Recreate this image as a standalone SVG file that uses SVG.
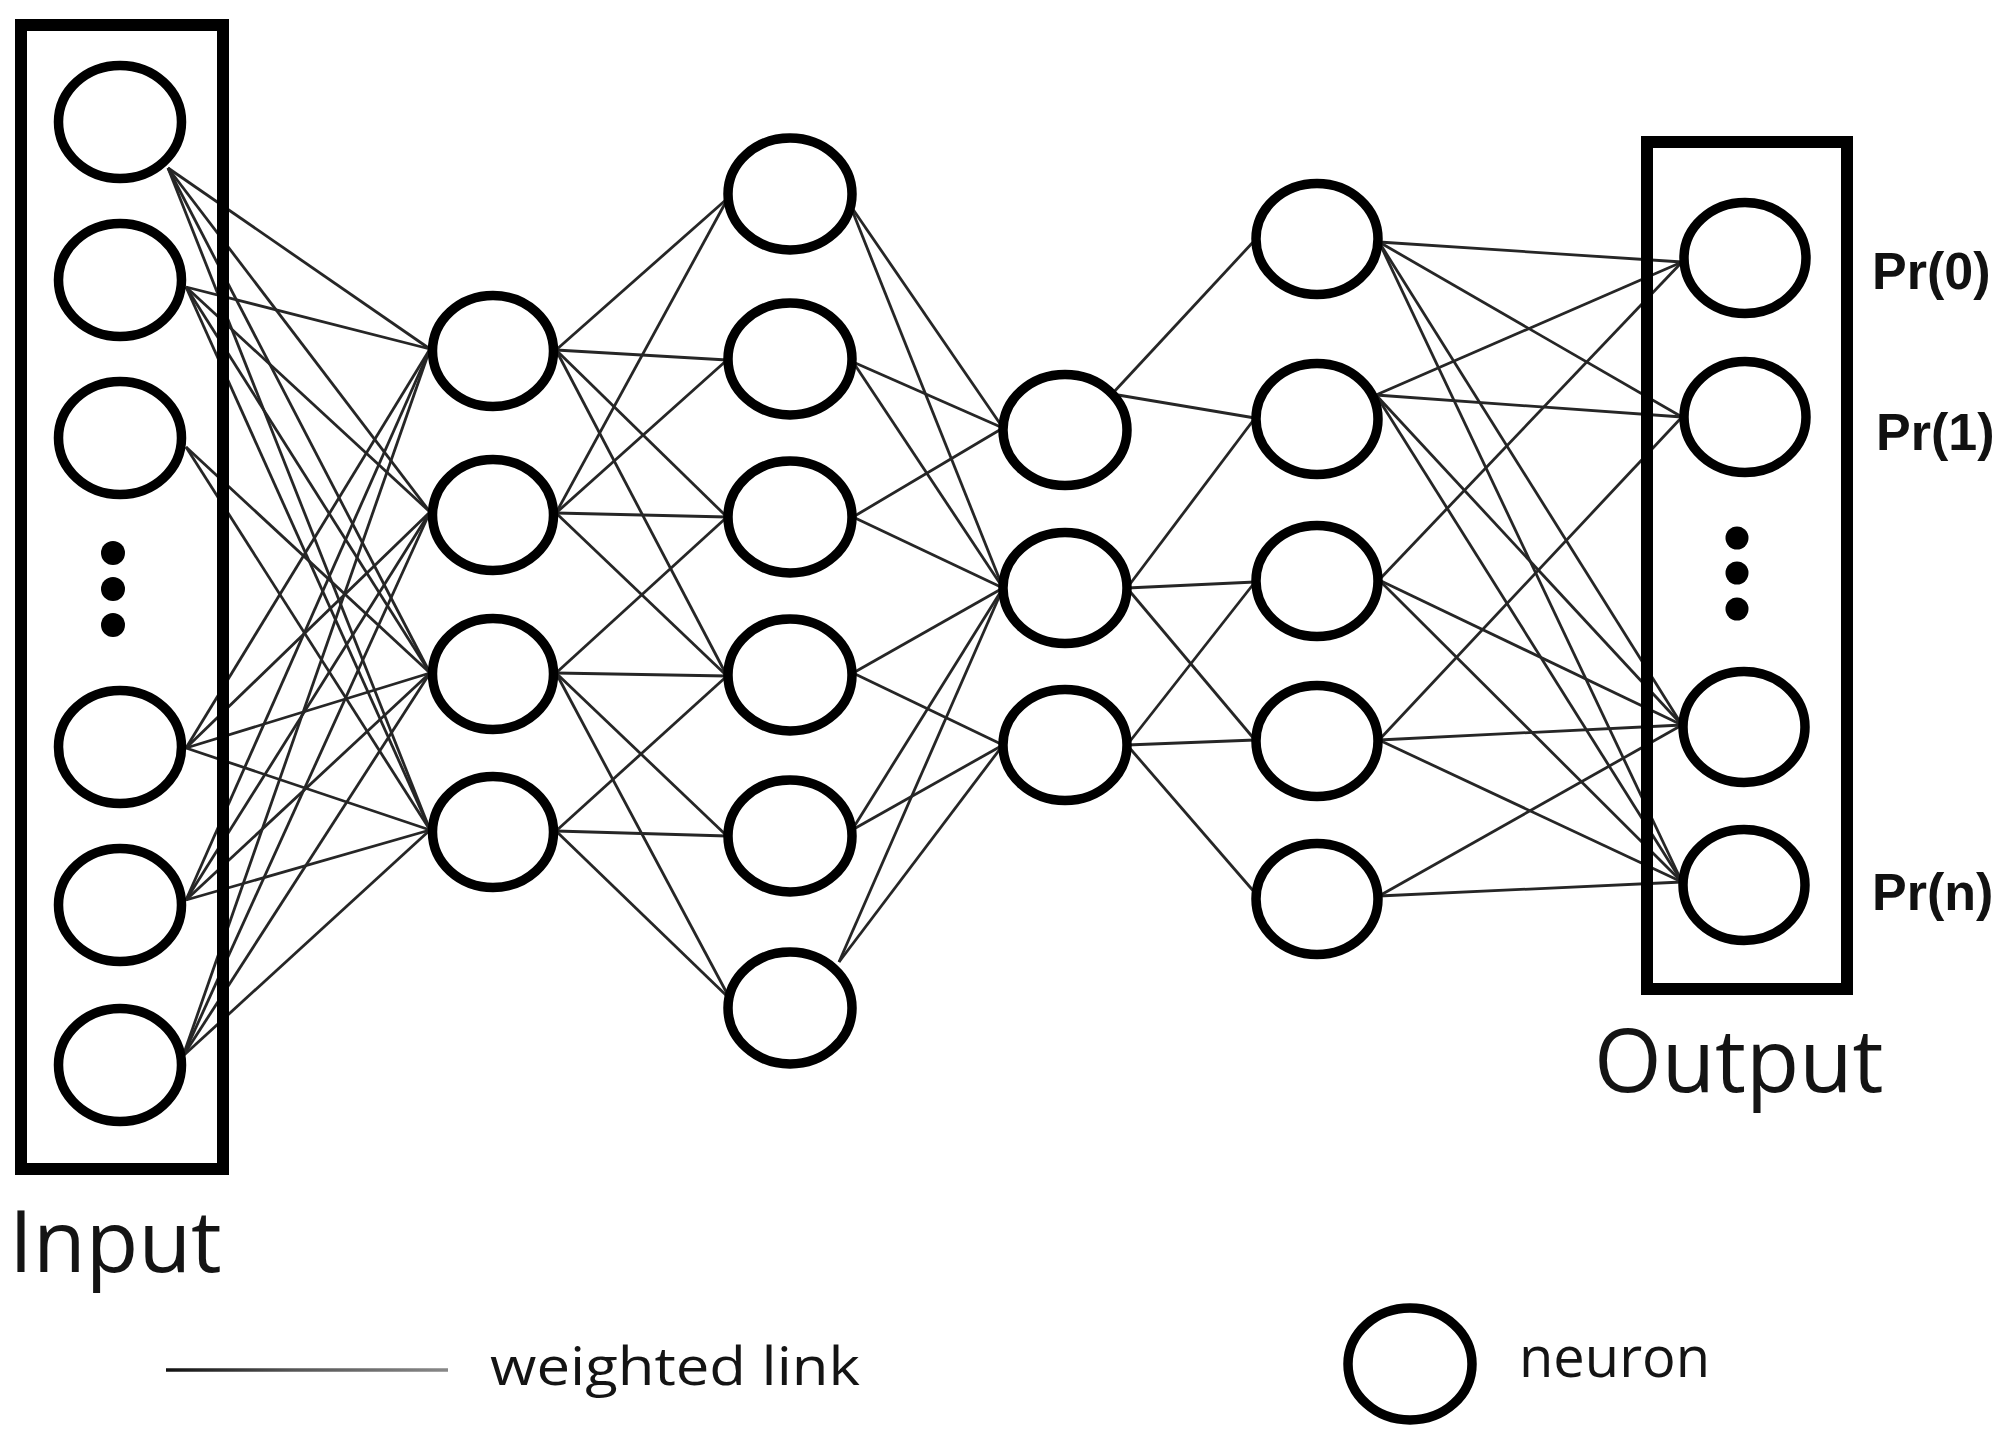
<svg xmlns="http://www.w3.org/2000/svg" width="2005" height="1444" viewBox="0 0 2005 1444">
<defs>
<style>
.n{fill:#fff;stroke:#000;stroke-width:9.5}
.box{fill:none;stroke:#000;stroke-width:12}
.dot{fill:#000}
.ln line{stroke:#262626;stroke-width:2.8}
.lbl{font-family:"Open Sans","Noto Sans","DejaVu Sans",sans-serif;fill:#141414}
.pr{font-family:"Liberation Sans",Arial,sans-serif;font-weight:bold;fill:#111;font-size:52px}
</style>
<linearGradient id="lg" gradientUnits="userSpaceOnUse" x1="166" y1="0" x2="448" y2="0">
<stop offset="0" stop-color="#111"/>
<stop offset="0.45" stop-color="#555"/>
<stop offset="1" stop-color="#888"/>
</linearGradient>
</defs>
<rect width="2005" height="1444" fill="#fff"/>
<g id="connectors" class="ln">
<line x1="168" y1="168" x2="430" y2="349"/>
<line x1="168" y1="168" x2="430" y2="512"/>
<line x1="168" y1="168" x2="430" y2="673"/>
<line x1="168" y1="168" x2="430" y2="830"/>
<line x1="186" y1="287" x2="430" y2="349"/>
<line x1="186" y1="287" x2="430" y2="512"/>
<line x1="186" y1="287" x2="430" y2="673"/>
<line x1="186" y1="287" x2="430" y2="830"/>
<line x1="186" y1="447" x2="430" y2="673"/>
<line x1="186" y1="447" x2="430" y2="830"/>
<line x1="186" y1="748" x2="430" y2="349"/>
<line x1="186" y1="748" x2="430" y2="512"/>
<line x1="186" y1="748" x2="430" y2="673"/>
<line x1="186" y1="748" x2="430" y2="830"/>
<line x1="186" y1="900" x2="430" y2="349"/>
<line x1="186" y1="900" x2="430" y2="512"/>
<line x1="186" y1="900" x2="430" y2="673"/>
<line x1="186" y1="900" x2="430" y2="830"/>
<line x1="183" y1="1056" x2="430" y2="349"/>
<line x1="183" y1="1056" x2="430" y2="512"/>
<line x1="183" y1="1056" x2="430" y2="673"/>
<line x1="183" y1="1056" x2="430" y2="830"/>
<line x1="556" y1="350" x2="728" y2="198"/>
<line x1="556" y1="350" x2="727" y2="360"/>
<line x1="556" y1="350" x2="727" y2="517"/>
<line x1="556" y1="350" x2="727" y2="676"/>
<line x1="556" y1="513" x2="728" y2="198"/>
<line x1="556" y1="513" x2="727" y2="360"/>
<line x1="556" y1="513" x2="727" y2="517"/>
<line x1="556" y1="513" x2="727" y2="676"/>
<line x1="556" y1="673" x2="727" y2="517"/>
<line x1="556" y1="673" x2="727" y2="676"/>
<line x1="556" y1="673" x2="727" y2="836"/>
<line x1="556" y1="673" x2="730" y2="999"/>
<line x1="556" y1="831" x2="727" y2="676"/>
<line x1="556" y1="831" x2="727" y2="836"/>
<line x1="556" y1="831" x2="730" y2="999"/>
<line x1="850" y1="205" x2="1003" y2="428"/>
<line x1="850" y1="205" x2="1003" y2="588"/>
<line x1="853" y1="362" x2="1003" y2="428"/>
<line x1="853" y1="362" x2="1003" y2="588"/>
<line x1="853" y1="517" x2="1003" y2="428"/>
<line x1="853" y1="517" x2="1003" y2="588"/>
<line x1="853" y1="673" x2="1003" y2="588"/>
<line x1="853" y1="673" x2="1003" y2="745"/>
<line x1="852" y1="830" x2="1003" y2="588"/>
<line x1="852" y1="830" x2="1003" y2="745"/>
<line x1="839" y1="962" x2="1003" y2="588"/>
<line x1="839" y1="962" x2="1003" y2="745"/>
<line x1="1112" y1="394" x2="1255" y2="240"/>
<line x1="1112" y1="394" x2="1255" y2="418"/>
<line x1="1127" y1="588" x2="1255" y2="418"/>
<line x1="1127" y1="588" x2="1255" y2="582"/>
<line x1="1127" y1="588" x2="1255" y2="740"/>
<line x1="1127" y1="745" x2="1255" y2="582"/>
<line x1="1127" y1="745" x2="1255" y2="740"/>
<line x1="1127" y1="745" x2="1256" y2="894"/>
<line x1="1379" y1="242" x2="1682" y2="262"/>
<line x1="1379" y1="242" x2="1682" y2="417"/>
<line x1="1379" y1="242" x2="1682" y2="725"/>
<line x1="1379" y1="242" x2="1682" y2="882"/>
<line x1="1376" y1="395" x2="1682" y2="262"/>
<line x1="1376" y1="395" x2="1682" y2="417"/>
<line x1="1376" y1="395" x2="1682" y2="725"/>
<line x1="1376" y1="395" x2="1682" y2="882"/>
<line x1="1379" y1="580" x2="1682" y2="262"/>
<line x1="1379" y1="580" x2="1682" y2="725"/>
<line x1="1379" y1="580" x2="1682" y2="882"/>
<line x1="1379" y1="740" x2="1682" y2="417"/>
<line x1="1379" y1="740" x2="1682" y2="725"/>
<line x1="1379" y1="740" x2="1682" y2="882"/>
<line x1="1379" y1="896" x2="1682" y2="725"/>
<line x1="1379" y1="896" x2="1682" y2="882"/>
</g>
<g id="input-layer">
<rect class="box" x="21" y="25" width="202" height="1144"/>
<ellipse id="in1" class="n" cx="120" cy="122" rx="61.5" ry="56.5"/>
<ellipse id="in2" class="n" cx="120" cy="280" rx="61.5" ry="56.5"/>
<ellipse id="in3" class="n" cx="120" cy="438" rx="61.5" ry="56.5"/>
<circle class="dot" cx="113" cy="553" r="12"/>
<circle class="dot" cx="113" cy="589" r="12"/>
<circle class="dot" cx="113" cy="625" r="12"/>
<ellipse id="in4" class="n" cx="120" cy="747" rx="61.5" ry="56.5"/>
<ellipse id="in5" class="n" cx="120" cy="905" rx="61.5" ry="56.5"/>
<ellipse id="in6" class="n" cx="120" cy="1065" rx="61.5" ry="56.5"/>
<text class="lbl" x="9" y="1272" font-size="86">Input</text>
</g>
<g id="hidden1">
<ellipse id="h1a" class="n" cx="493" cy="351" rx="60.5" ry="55.5"/>
<ellipse id="h1b" class="n" cx="493" cy="515" rx="60.5" ry="55.5"/>
<ellipse id="h1c" class="n" cx="493" cy="674" rx="60.5" ry="55.5"/>
<ellipse id="h1d" class="n" cx="493" cy="832" rx="60.5" ry="55.5"/>
</g>
<g id="hidden2">
<ellipse id="h2a" class="n" cx="790" cy="194" rx="62" ry="56"/>
<ellipse id="h2b" class="n" cx="790" cy="359" rx="62" ry="56"/>
<ellipse id="h2c" class="n" cx="790" cy="517" rx="62" ry="56"/>
<ellipse id="h2d" class="n" cx="790" cy="675" rx="62" ry="56"/>
<ellipse id="h2e" class="n" cx="790" cy="836" rx="62" ry="56"/>
<ellipse id="h2f" class="n" cx="790" cy="1008" rx="62" ry="56"/>
</g>
<g id="hidden3">
<ellipse id="h3a" class="n" cx="1065" cy="430" rx="62" ry="55.5"/>
<ellipse id="h3b" class="n" cx="1065" cy="588" rx="62" ry="55.5"/>
<ellipse id="h3c" class="n" cx="1065" cy="745" rx="62" ry="55.5"/>
</g>
<g id="hidden4">
<ellipse id="h4a" class="n" cx="1317" cy="239" rx="61" ry="55.5"/>
<ellipse id="h4b" class="n" cx="1317" cy="419" rx="61" ry="55.5"/>
<ellipse id="h4c" class="n" cx="1317" cy="581" rx="61" ry="55.5"/>
<ellipse id="h4d" class="n" cx="1317" cy="741" rx="61" ry="55.5"/>
<ellipse id="h4e" class="n" cx="1317" cy="899" rx="61" ry="55.5"/>
</g>
<g id="output-layer">
<rect class="box" x="1647" y="142" width="200" height="847" stroke-width="11"/>
<ellipse id="out1" class="n" cx="1745" cy="258" rx="61" ry="55.5"/>
<ellipse id="out2" class="n" cx="1745" cy="417" rx="61" ry="55.5"/>
<circle class="dot" cx="1737" cy="538" r="11.5"/>
<circle class="dot" cx="1737" cy="573" r="11.5"/>
<circle class="dot" cx="1737" cy="609" r="11.5"/>
<ellipse id="out3" class="n" cx="1744" cy="727" rx="61" ry="55.5"/>
<ellipse id="out4" class="n" cx="1744" cy="885" rx="61" ry="55.5"/>
<text class="pr" x="1872" y="289">Pr(0)</text>
<text class="pr" x="1876" y="450">Pr(1)</text>
<text class="pr" x="1872" y="910">Pr(n)</text>
<text class="lbl" x="1594" y="1092" font-size="87">Output</text>
</g>
<g id="legend">
<line x1="166" y1="1370" x2="448" y2="1370" stroke="url(#lg)" stroke-width="3.4"/>
<text class="lbl" x="490" y="1385" font-size="53" textLength="370" lengthAdjust="spacingAndGlyphs">weighted link</text>
<ellipse id="legend-neuron" class="n" cx="1410" cy="1364" rx="62" ry="56"/>
<text class="lbl" x="1519" y="1377" font-size="56">neuron</text>
</g>
</svg>
